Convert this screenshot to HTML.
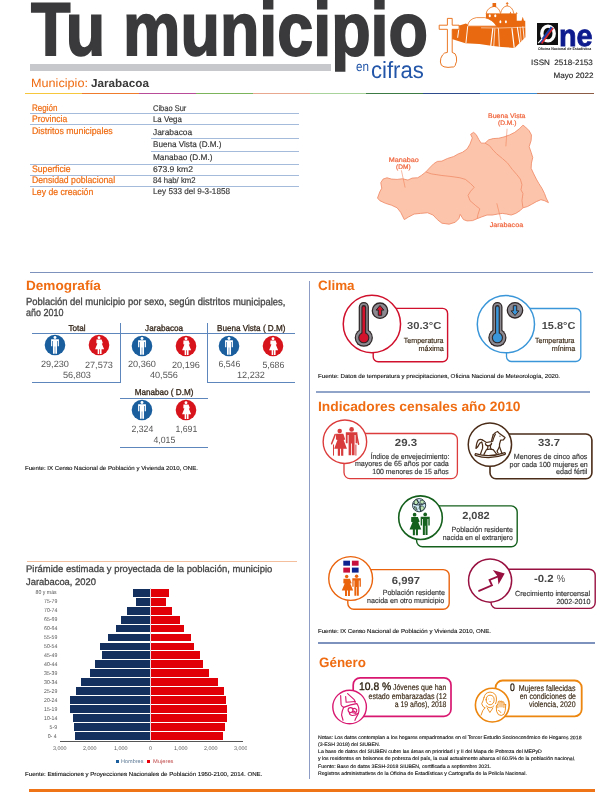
<!DOCTYPE html>
<html lang="es"><head><meta charset="utf-8"><title>Tu municipio en cifras - Jarabacoa</title>
<style>
html,body{margin:0;padding:0;background:#fff;}
body{filter:opacity(1);width:612px;height:792px;position:relative;overflow:hidden;font-family:"Liberation Sans",sans-serif;}
.t{position:absolute;white-space:pre;line-height:1;display:block;}
.r{position:absolute;}
svg{position:absolute;overflow:visible;}
.bx{position:absolute;box-sizing:border-box;background:#fff;}
.ci{position:absolute;box-sizing:border-box;background:#fff;border-radius:50%;}
</style></head><body>
<span class="t" style="left:31.00px;top:-8.00px;font-size:75px;color:#3a3a3c;font-weight:bold;transform:scaleX(0.8611) rotate(0.03deg);transform-origin:0 0;-webkit-text-stroke:1.8px #3a3a3c;">Tu municipio</span>
<div class="r" style="left:30.00px;top:64.00px;width:301.00px;height:6.60px;background:#c6c8cc;"></div>
<span class="t" style="left:356.30px;top:60.00px;font-size:13.5px;color:#2356a8;transform:scaleX(0.8657) rotate(0.03deg);transform-origin:0 0;">en</span>
<span class="t" style="left:370.80px;top:59.00px;font-size:23.5px;color:#2356a8;transform:scaleX(0.9404) rotate(0.03deg);transform-origin:0 0;">cifras</span>
<span class="t" style="left:30.60px;top:77.00px;font-size:12px;color:#ef6c12;transform:scaleX(1.0551) rotate(0.03deg);transform-origin:0 0;">Municipio:</span>
<span class="t" style="left:90.60px;top:78.00px;font-size:11.5px;color:#3a3a3a;font-weight:bold;transform:scaleX(1.0193) rotate(0.03deg);transform-origin:0 0;">Jarabacoa</span>
<span class="t" style="left:532.86px;top:59.00px;font-size:7.8px;color:#2a2a2a;transform:scaleX(1.0327) rotate(0.03deg);transform-origin:100% 0;-webkit-text-stroke:0.15px #2a2a2a;">ISSN  2518-2153</span>
<span class="t" style="left:555.41px;top:72.00px;font-size:7.8px;color:#2a2a2a;transform:scaleX(1.0365) rotate(0.03deg);transform-origin:100% 0;-webkit-text-stroke:0.15px #2a2a2a;">Mayo 2022</span>
<div class="r" style="left:25.00px;top:93.00px;width:57.00px;height:1.40px;background:#f6c63c;"></div>
<div class="r" style="left:82.00px;top:93.00px;width:57.00px;height:1.40px;background:#ef7c2c;"></div>
<div class="r" style="left:139.00px;top:93.00px;width:57.00px;height:1.40px;background:#b84c98;"></div>
<div class="r" style="left:196.00px;top:93.00px;width:57.00px;height:1.40px;background:#7cb45c;"></div>
<div class="r" style="left:253.00px;top:93.00px;width:57.00px;height:1.40px;background:#e8a890;"></div>
<div class="r" style="left:310.00px;top:93.00px;width:56.00px;height:1.40px;background:#a8d49c;"></div>
<div class="r" style="left:366.00px;top:93.00px;width:57.00px;height:1.40px;background:#3c7c44;"></div>
<div class="r" style="left:423.00px;top:93.00px;width:57.00px;height:1.40px;background:#2c4c8c;"></div>
<div class="r" style="left:480.00px;top:93.00px;width:57.00px;height:1.40px;background:#3c8cd4;"></div>
<div class="r" style="left:537.00px;top:93.00px;width:57.00px;height:1.40px;background:#8c5c44;"></div>
<span class="t" style="left:32.20px;top:103.00px;font-size:9.4px;color:#ef6c12;transform:scaleX(0.8560) rotate(0.03deg);transform-origin:0 0;-webkit-text-stroke:0.2px #ef6c12;">Región</span>
<span class="t" style="left:152.50px;top:104.00px;font-size:8.3px;color:#333;transform:scaleX(0.9022) rotate(0.03deg);transform-origin:0 0;-webkit-text-stroke:0.15px #333;">Cibao Sur</span>
<div class="r" style="left:30.00px;top:113.00px;width:268.50px;height:0.90px;background:#a4bbdb;"></div>
<span class="t" style="left:32.20px;top:114.00px;font-size:9.4px;color:#ef6c12;transform:scaleX(0.9131) rotate(0.03deg);transform-origin:0 0;-webkit-text-stroke:0.2px #ef6c12;">Provincia</span>
<span class="t" style="left:152.50px;top:115.00px;font-size:8.3px;color:#333;transform:scaleX(0.9454) rotate(0.03deg);transform-origin:0 0;-webkit-text-stroke:0.15px #333;">La Vega</span>
<div class="r" style="left:30.00px;top:124.40px;width:268.50px;height:0.90px;background:#a4bbdb;"></div>
<span class="t" style="left:32.20px;top:126.00px;font-size:9.4px;color:#ef6c12;transform:scaleX(0.9397) rotate(0.03deg);transform-origin:0 0;-webkit-text-stroke:0.2px #ef6c12;">Distritos municipales</span>
<span class="t" style="left:152.50px;top:128.00px;font-size:8.3px;color:#333;transform:scaleX(1.0113) rotate(0.03deg);transform-origin:0 0;-webkit-text-stroke:0.15px #333;">Jarabacoa</span>
<div class="r" style="left:151.00px;top:138.40px;width:147.50px;height:0.90px;background:#a4bbdb;"></div>
<span class="t" style="left:152.50px;top:140.00px;font-size:8.3px;color:#333;transform:scaleX(0.9805) rotate(0.03deg);transform-origin:0 0;-webkit-text-stroke:0.15px #333;">Buena Vista (D.M.)</span>
<div class="r" style="left:151.00px;top:151.20px;width:147.50px;height:0.90px;background:#a4bbdb;"></div>
<span class="t" style="left:152.50px;top:153.00px;font-size:8.3px;color:#333;transform:scaleX(0.9923) rotate(0.03deg);transform-origin:0 0;-webkit-text-stroke:0.15px #333;">Manabao (D.M.)</span>
<div class="r" style="left:30.00px;top:164.20px;width:268.50px;height:0.90px;background:#a4bbdb;"></div>
<span class="t" style="left:32.20px;top:164.00px;font-size:9.4px;color:#ef6c12;transform:scaleX(0.9234) rotate(0.03deg);transform-origin:0 0;-webkit-text-stroke:0.2px #ef6c12;">Superficie</span>
<span class="t" style="left:152.50px;top:165.00px;font-size:8.3px;color:#333;transform:scaleX(1.0295) rotate(0.03deg);transform-origin:0 0;-webkit-text-stroke:0.15px #333;">673.9 km2</span>
<div class="r" style="left:30.00px;top:175.00px;width:268.50px;height:0.90px;background:#a4bbdb;"></div>
<span class="t" style="left:32.20px;top:175.00px;font-size:9.4px;color:#ef6c12;transform:scaleX(0.9267) rotate(0.03deg);transform-origin:0 0;-webkit-text-stroke:0.2px #ef6c12;">Densidad poblacional</span>
<span class="t" style="left:152.50px;top:176.00px;font-size:8.3px;color:#333;transform:scaleX(0.9304) rotate(0.03deg);transform-origin:0 0;-webkit-text-stroke:0.15px #333;">84 hab/ km2</span>
<div class="r" style="left:30.00px;top:185.80px;width:268.50px;height:0.90px;background:#a4bbdb;"></div>
<span class="t" style="left:32.20px;top:187.00px;font-size:9.4px;color:#ef6c12;transform:scaleX(0.9252) rotate(0.03deg);transform-origin:0 0;-webkit-text-stroke:0.2px #ef6c12;">Ley de creación</span>
<span class="t" style="left:152.50px;top:187.00px;font-size:8.3px;color:#333;transform:scaleX(0.9815) rotate(0.03deg);transform-origin:0 0;-webkit-text-stroke:0.15px #333;">Ley 533 del 9-3-1858</span>
<div class="r" style="left:29.60px;top:271.90px;width:563.00px;height:1.40px;background:#7d93bd;"></div>
<div class="r" style="left:309.20px;top:281.00px;width:1.10px;height:498.00px;background:#8c9cc4;"></div>
<div class="r" style="left:316.40px;top:391.30px;width:274.00px;height:1.30px;background:#8fa4c8;"></div>
<div class="r" style="left:317.50px;top:642.30px;width:277.00px;height:1.30px;background:#7d93bd;"></div>
<div class="r" style="left:26.70px;top:561.10px;width:270.50px;height:1.30px;background:#f4bf9c;"></div>
<div class="r" style="left:28.50px;top:789.30px;width:566.00px;height:3.00px;background:#ef7418;"></div>
<svg style="left:0;top:0;width:612px;height:792px" viewBox="0 0 612 792">
<g transform="translate(470 0) scale(0.106214)">
<path d="M-171 262 L-38 222 L0 245 L150 245 L150 120 L272 120 L272 128 L440 128 L440 195 L485 195 L497 158 L508 195 L520 195 L522 350 L470 402 L420 452 L300 442 L200 430 L88 414 L-44 408 L-171 368 Z" fill="#e8690f"/>
<path d="M-24 246 Q-12 178 60 166 L140 166 Q218 186 250 246 Z" fill="#fff" stroke="#e8690f" stroke-width="7"/>
<path d="M152 130 Q160 72 228 60 Q276 70 288 130 Z" fill="#fff" stroke="#e8690f" stroke-width="7"/>
<path d="M287 130 Q300 62 350 55 Q400 62 412 124 L412 130 Z" fill="#fff" stroke="#e8690f" stroke-width="7"/>
<path d="M212 28 H246 V66 H212 Z M346 20 H354 V30 H362 V38 H354 V58 H346 V38 H338 V30 H346 Z M372 130 L381 108 L390 130 Z M430 130 L440 112 L448 130 Z" fill="#e8690f"/>
<g fill="#fff"><ellipse cx="186" cy="148" rx="10" ry="15"/><ellipse cx="238" cy="148" rx="10" ry="15"/><ellipse cx="286" cy="205" rx="9" ry="15"/><ellipse cx="338" cy="205" rx="9" ry="15"/></g>
<g stroke="#fff" fill="none" stroke-linecap="round">
<path d="M215 270 L196 428" stroke-width="11"/><path d="M234 270 L224 430" stroke-width="7"/><path d="M268 270 L276 436" stroke-width="8"/>
<path d="M395 270 L416 446" stroke-width="11"/><path d="M446 258 L468 400" stroke-width="10"/><path d="M472 256 L482 388" stroke-width="6"/><path d="M498 252 L510 364" stroke-width="8"/>
<path d="M-104 264 L-116 352" stroke-width="9"/><path d="M-22 250 L-38 402" stroke-width="9"/>
<path d="M108 262 L262 264" stroke-width="5"/><path d="M262 264 L520 256" stroke-width="5"/>
</g>
</g>
<path d="M447.4 18.4 H452.2 V25.2 H459.1 V29.3 H452.2 V52.4 Q456 53 456.4 57 Q457.2 62 455.6 64 Q455 67.6 452 67 Q448 67.9 444 66.8 Q440.5 66 440.4 62 Q440.2 58 442.5 55 Q444 52.5 447.4 52.4 V29.3 H439.2 V25.2 H447.4 Z" fill="#fff" stroke="#e8690f" stroke-width="0.9" stroke-linejoin="round"/>
</svg>
<svg style="left:537.4px;top:23.1px;width:21px;height:22px" viewBox="0 0 21 22">
<rect width="21" height="22" fill="#111"/>
<ellipse cx="11" cy="10.5" rx="6.2" ry="7.4" fill="none" stroke="#fff" stroke-width="3.4"/>
<path d="M3.2 19.5 L14.8 4.2" stroke="#1d3fa8" stroke-width="2.6"/>
<path d="M4.6 20.4 L16.2 5.1" stroke="#d8232a" stroke-width="1.6"/>
<path d="M1.2 20.2 L5.2 15.6" stroke="#fff" stroke-width="1.2"/>
</svg>
<span class="t" style="left:558.80px;top:20.00px;font-size:30.5px;color:#0d1b8e;font-weight:bold;transform:scaleX(0.9440) rotate(0.03deg);transform-origin:0 0;-webkit-text-stroke:0.8px #0d1b8e;">ne</span>
<span class="t" style="left:537.60px;top:47.00px;font-size:3.9px;color:#222;font-weight:bold;transform:scaleX(0.9245) rotate(0.03deg);transform-origin:0 0;">Oficina Nacional de Estadística</span>
<svg style="left:370px;top:100px;width:200px;height:140px" viewBox="0 0 612 428.4">
<path d="M23 300 L30 281 L36 270 L33 253 L40 242 L52 238 L66 242 L83 243 L99 241 L116 245 L129 239 L146 238 L157 231 L171 220 L182 208 L195 195 L206 188 L220 187 L237 179 L256 173 L270 165 L283 160 L297 150 L306 135 L313 116 L308 105 L317 99 L325 106 L333 121 L340 132 L352 132 L363 122 L377 118 L394 117 L410 113 L427 107 L443 99 L457 88 L468 77 L476 83 L487 94 L494 107 L493 124 L487 143 L493 160 L498 176 L494 193 L493 209 L501 226 L509 242 L517 256 L526 270 L534 286 L539 300 L546 314 L534 308 L523 305 L509 311 L495 319 L482 326 L468 330 L460 338 L446 347 L432 352 L418 349 L405 347 L391 349 L374 352 L358 352 L341 358 L328 363 L314 369 L297 370 L286 366 L276 350 L272 363 L261 374 L242 380 L220 377 L206 366 L193 352 L176 345 L154 347 L135 349 L118 358 L105 366 L94 344 L83 330 L66 322 L47 316 L30 308 Z" fill="#fcc5ab" stroke="#f08a68" stroke-width="2.6" stroke-linejoin="round"/>
<path d="M171 220 L187 226 L220 231 L248 234 L275 238 L292 243 L308 256 L319 267 L308 279 L300 292 L306 308 L322 322 L336 333 L330 352 L328 363" fill="none" stroke="#f08a68" stroke-width="2.4"/>
<path d="M352 132 L366 140 L377 154 L388 165 L405 179 L421 193 L435 212 L449 228 L460 242 L465 259 L462 275 L468 286 L465 308 L468 330" fill="none" stroke="#f08a68" stroke-width="2.4"/>
<path d="M419.5 88 L415.7 142 M96 215 L107.5 268 M388 316 L400.8 367" stroke="#f07850" stroke-width="1.6" fill="none"/>
</svg>
<span class="t" style="left:489.36px;top:113.00px;font-size:6.6px;color:#f0643c;transform:scaleX(1.0572) rotate(0.03deg);transform-origin:50% 0;-webkit-text-stroke:0.2px #f0643c;">Buena Vista</span>
<span class="t" style="left:497.94px;top:120.00px;font-size:6.6px;color:#f0643c;transform:scaleX(1.0094) rotate(0.03deg);transform-origin:50% 0;-webkit-text-stroke:0.2px #f0643c;">(D.M.)</span>
<span class="t" style="left:390.04px;top:157.00px;font-size:6.6px;color:#f0643c;transform:scaleX(1.0900) rotate(0.03deg);transform-origin:50% 0;-webkit-text-stroke:0.2px #f0643c;">Manabao</span>
<span class="t" style="left:396.47px;top:164.00px;font-size:6.6px;color:#f0643c;transform:scaleX(0.9891) rotate(0.03deg);transform-origin:50% 0;-webkit-text-stroke:0.2px #f0643c;">(DM)</span>
<span class="t" style="left:490.99px;top:222.00px;font-size:6.6px;color:#f0643c;transform:scaleX(1.0869) rotate(0.03deg);transform-origin:50% 0;-webkit-text-stroke:0.2px #f0643c;">Jarabacoa</span>
<span class="t" style="left:25.70px;top:279.00px;font-size:13.4px;color:#ef6c12;font-weight:bold;transform:scaleX(1.0147) rotate(0.03deg);transform-origin:0 0;">Demografía</span>
<span class="t" style="left:25.70px;top:297.00px;font-size:10.3px;color:#444;transform:scaleX(0.9175) rotate(0.03deg);transform-origin:0 0;-webkit-text-stroke:0.3px #444;">Población del municipio por sexo, según distritos municipales,</span>
<span class="t" style="left:25.70px;top:308.00px;font-size:10.3px;color:#444;transform:scaleX(0.8706) rotate(0.03deg);transform-origin:0 0;-webkit-text-stroke:0.3px #444;">año 2010</span>
<div class="r" style="left:32.00px;top:333.40px;width:263.00px;height:1.00px;background:#5c86bc;"></div>
<div class="r" style="left:120.30px;top:322.50px;width:1.00px;height:60.40px;background:#5c86bc;"></div>
<div class="r" style="left:207.20px;top:322.50px;width:1.00px;height:60.40px;background:#5c86bc;"></div>
<div class="r" style="left:32.00px;top:382.00px;width:89.00px;height:1.00px;background:#5c86bc;"></div>
<div class="r" style="left:207.20px;top:382.00px;width:88.00px;height:1.00px;background:#5c86bc;"></div>
<div class="r" style="left:120.30px;top:397.60px;width:87.60px;height:1.00px;background:#5c86bc;"></div>
<div class="r" style="left:120.30px;top:446.50px;width:87.60px;height:1.00px;background:#5c86bc;"></div>
<span class="t" style="left:67.82px;top:324.00px;font-size:8.6px;color:#36281c;transform:scaleX(0.9450) rotate(0.03deg);transform-origin:50% 0;-webkit-text-stroke:0.3px #36281c;">Total</span>
<svg style="left:43.80px;top:334.00px;width:22px;height:22px" viewBox="-11 -11 22 22"><circle r="10.3" fill="#1a5e9e"/><path d="M-2.9 -5.4 h5.8 v6.2 h-0.9 v-4.6 h-0.5 v11.4 h-1.3 v-6.6 h-0.4 v6.6 h-1.3 v-11.4 h-0.5 v4.6 h-0.9 Z" fill="#fff" transform="translate(0 0.3) scale(1.35 1.12)"/><circle cx="0" cy="-7.45" r="1.45" fill="#fff"/></svg>
<svg style="left:88.00px;top:334.00px;width:22px;height:22px" viewBox="-11 -11 22 22"><circle r="10.3" fill="#d7141c"/><path d="M-2.1 -5.2 h4.2 l1.1 3.4 l-0.9 0.3 l1.9 5.1 h-2.1 v4.1 h-1.3 v-4.1 h-0.6 v4.1 h-1.3 v-4.1 h-2.1 l1.9 -5.1 l-0.9 -0.3 Z" fill="#fff" transform="translate(0 0.3) scale(1.22 1.12)"/><circle cx="0" cy="-7.25" r="1.45" fill="#fff"/></svg>
<span class="t" style="left:40.88px;top:360.00px;font-size:9.1px;color:#555;transform:scaleX(1.0060) rotate(0.03deg);transform-origin:50% 0;">29,230</span>
<span class="t" style="left:85.08px;top:361.00px;font-size:9.1px;color:#555;transform:scaleX(1.0060) rotate(0.03deg);transform-origin:50% 0;">27,573</span>
<span class="t" style="left:62.98px;top:371.00px;font-size:9.1px;color:#555;transform:scaleX(1.0060) rotate(0.03deg);transform-origin:50% 0;">56,803</span>
<span class="t" style="left:143.92px;top:324.00px;font-size:8.6px;color:#36281c;transform:scaleX(0.9450) rotate(0.03deg);transform-origin:50% 0;-webkit-text-stroke:0.3px #36281c;">Jarabacoa</span>
<svg style="left:130.90px;top:334.50px;width:22px;height:22px" viewBox="-11 -11 22 22"><circle r="10.3" fill="#1a5e9e"/><path d="M-2.9 -5.4 h5.8 v6.2 h-0.9 v-4.6 h-0.5 v11.4 h-1.3 v-6.6 h-0.4 v6.6 h-1.3 v-11.4 h-0.5 v4.6 h-0.9 Z" fill="#fff" transform="translate(0 0.3) scale(1.35 1.12)"/><circle cx="0" cy="-7.45" r="1.45" fill="#fff"/></svg>
<svg style="left:175.10px;top:334.50px;width:22px;height:22px" viewBox="-11 -11 22 22"><circle r="10.3" fill="#d7141c"/><path d="M-2.1 -5.2 h4.2 l1.1 3.4 l-0.9 0.3 l1.9 5.1 h-2.1 v4.1 h-1.3 v-4.1 h-0.6 v4.1 h-1.3 v-4.1 h-2.1 l1.9 -5.1 l-0.9 -0.3 Z" fill="#fff" transform="translate(0 0.3) scale(1.22 1.12)"/><circle cx="0" cy="-7.25" r="1.45" fill="#fff"/></svg>
<span class="t" style="left:127.98px;top:360.00px;font-size:9.1px;color:#555;transform:scaleX(1.0060) rotate(0.03deg);transform-origin:50% 0;">20,360</span>
<span class="t" style="left:172.18px;top:361.00px;font-size:9.1px;color:#555;transform:scaleX(1.0060) rotate(0.03deg);transform-origin:50% 0;">20,196</span>
<span class="t" style="left:150.08px;top:371.00px;font-size:9.1px;color:#555;transform:scaleX(1.0060) rotate(0.03deg);transform-origin:50% 0;">40,556</span>
<span class="t" style="left:215.05px;top:324.00px;font-size:8.6px;color:#36281c;transform:scaleX(0.9450) rotate(0.03deg);transform-origin:50% 0;-webkit-text-stroke:0.3px #36281c;">Buena Vista ( D.M)</span>
<svg style="left:218.20px;top:334.50px;width:22px;height:22px" viewBox="-11 -11 22 22"><circle r="10.3" fill="#1a5e9e"/><path d="M-2.9 -5.4 h5.8 v6.2 h-0.9 v-4.6 h-0.5 v11.4 h-1.3 v-6.6 h-0.4 v6.6 h-1.3 v-11.4 h-0.5 v4.6 h-0.9 Z" fill="#fff" transform="translate(0 0.3) scale(1.35 1.12)"/><circle cx="0" cy="-7.45" r="1.45" fill="#fff"/></svg>
<svg style="left:262.40px;top:334.50px;width:22px;height:22px" viewBox="-11 -11 22 22"><circle r="10.3" fill="#d7141c"/><path d="M-2.1 -5.2 h4.2 l1.1 3.4 l-0.9 0.3 l1.9 5.1 h-2.1 v4.1 h-1.3 v-4.1 h-0.6 v4.1 h-1.3 v-4.1 h-2.1 l1.9 -5.1 l-0.9 -0.3 Z" fill="#fff" transform="translate(0 0.3) scale(1.22 1.12)"/><circle cx="0" cy="-7.25" r="1.45" fill="#fff"/></svg>
<span class="t" style="left:217.81px;top:360.00px;font-size:9.1px;color:#555;transform:scaleX(0.9573) rotate(0.03deg);transform-origin:50% 0;">6,546</span>
<span class="t" style="left:262.01px;top:361.00px;font-size:9.1px;color:#555;transform:scaleX(0.9573) rotate(0.03deg);transform-origin:50% 0;">5,686</span>
<span class="t" style="left:237.38px;top:371.00px;font-size:9.1px;color:#555;transform:scaleX(1.0060) rotate(0.03deg);transform-origin:50% 0;">12,232</span>
<span class="t" style="left:132.93px;top:388.00px;font-size:8.6px;color:#36281c;transform:scaleX(0.9450) rotate(0.03deg);transform-origin:50% 0;-webkit-text-stroke:0.3px #36281c;">Manabao ( D.M)</span>
<svg style="left:130.90px;top:399.40px;width:22px;height:22px" viewBox="-11 -11 22 22"><circle r="10.3" fill="#1a5e9e"/><path d="M-2.9 -5.4 h5.8 v6.2 h-0.9 v-4.6 h-0.5 v11.4 h-1.3 v-6.6 h-0.4 v6.6 h-1.3 v-11.4 h-0.5 v4.6 h-0.9 Z" fill="#fff" transform="translate(0 0.3) scale(1.35 1.12)"/><circle cx="0" cy="-7.45" r="1.45" fill="#fff"/></svg>
<svg style="left:175.10px;top:399.40px;width:22px;height:22px" viewBox="-11 -11 22 22"><circle r="10.3" fill="#d7141c"/><path d="M-2.1 -5.2 h4.2 l1.1 3.4 l-0.9 0.3 l1.9 5.1 h-2.1 v4.1 h-1.3 v-4.1 h-0.6 v4.1 h-1.3 v-4.1 h-2.1 l1.9 -5.1 l-0.9 -0.3 Z" fill="#fff" transform="translate(0 0.3) scale(1.22 1.12)"/><circle cx="0" cy="-7.25" r="1.45" fill="#fff"/></svg>
<span class="t" style="left:130.51px;top:425.00px;font-size:9.1px;color:#555;transform:scaleX(0.9573) rotate(0.03deg);transform-origin:50% 0;">2,324</span>
<span class="t" style="left:174.71px;top:425.00px;font-size:9.1px;color:#555;transform:scaleX(0.9573) rotate(0.03deg);transform-origin:50% 0;">1,691</span>
<span class="t" style="left:152.61px;top:436.00px;font-size:9.1px;color:#555;transform:scaleX(0.9573) rotate(0.03deg);transform-origin:50% 0;">4,015</span>
<span class="t" style="left:24.70px;top:466.00px;font-size:5.8px;color:#111;transform:scaleX(1.0507) rotate(0.03deg);transform-origin:0 0;-webkit-text-stroke:0.12px #111;">Fuente: IX Censo Nacional de Población y Vivienda 2010, ONE.</span>
<span class="t" style="left:25.70px;top:564.00px;font-size:9.6px;color:#444;transform:scaleX(0.9849) rotate(0.03deg);transform-origin:0 0;-webkit-text-stroke:0.3px #444;">Pirámide estimada y proyectada de la población, municipio</span>
<span class="t" style="left:25.70px;top:577.00px;font-size:9.6px;color:#444;transform:scaleX(0.9787) rotate(0.03deg);transform-origin:0 0;-webkit-text-stroke:0.3px #444;">Jarabacoa, 2020</span>
<div class="r" style="left:132.90px;top:588.75px;width:17.70px;height:7.90px;background:#14305f;"></div>
<div class="r" style="left:150.60px;top:588.75px;width:18.00px;height:7.90px;background:#e20008;"></div>
<span class="t" style="left:34.28px;top:590.00px;font-size:5.6px;color:#555;transform:scaleX(0.9300) rotate(0.03deg);transform-origin:100% 0;">80 y más</span>
<div class="r" style="left:136.30px;top:597.71px;width:14.30px;height:7.90px;background:#14305f;"></div>
<div class="r" style="left:150.60px;top:597.71px;width:15.00px;height:7.90px;background:#e20008;"></div>
<span class="t" style="left:42.68px;top:599.00px;font-size:5.6px;color:#555;transform:scaleX(0.9300) rotate(0.03deg);transform-origin:100% 0;">75-79</span>
<div class="r" style="left:127.40px;top:606.67px;width:23.20px;height:7.90px;background:#14305f;"></div>
<div class="r" style="left:150.60px;top:606.67px;width:21.00px;height:7.90px;background:#e20008;"></div>
<span class="t" style="left:42.68px;top:608.00px;font-size:5.6px;color:#555;transform:scaleX(0.9300) rotate(0.03deg);transform-origin:100% 0;">70-74</span>
<div class="r" style="left:120.60px;top:615.63px;width:30.00px;height:7.90px;background:#14305f;"></div>
<div class="r" style="left:150.60px;top:615.63px;width:29.00px;height:7.90px;background:#e20008;"></div>
<span class="t" style="left:42.68px;top:617.00px;font-size:5.6px;color:#555;transform:scaleX(0.9300) rotate(0.03deg);transform-origin:100% 0;">65-69</span>
<div class="r" style="left:115.60px;top:624.59px;width:35.00px;height:7.90px;background:#14305f;"></div>
<div class="r" style="left:150.60px;top:624.59px;width:33.50px;height:7.90px;background:#e20008;"></div>
<span class="t" style="left:42.68px;top:626.00px;font-size:5.6px;color:#555;transform:scaleX(0.9300) rotate(0.03deg);transform-origin:100% 0;">60-64</span>
<div class="r" style="left:108.20px;top:633.55px;width:42.40px;height:7.90px;background:#14305f;"></div>
<div class="r" style="left:150.60px;top:633.55px;width:40.00px;height:7.90px;background:#e20008;"></div>
<span class="t" style="left:42.68px;top:635.00px;font-size:5.6px;color:#555;transform:scaleX(0.9300) rotate(0.03deg);transform-origin:100% 0;">55-59</span>
<div class="r" style="left:100.00px;top:642.51px;width:50.60px;height:7.90px;background:#14305f;"></div>
<div class="r" style="left:150.60px;top:642.51px;width:43.00px;height:7.90px;background:#e20008;"></div>
<span class="t" style="left:42.68px;top:644.00px;font-size:5.6px;color:#555;transform:scaleX(0.9300) rotate(0.03deg);transform-origin:100% 0;">50-54</span>
<div class="r" style="left:101.60px;top:651.47px;width:49.00px;height:7.90px;background:#14305f;"></div>
<div class="r" style="left:150.60px;top:651.47px;width:49.60px;height:7.90px;background:#e20008;"></div>
<span class="t" style="left:42.68px;top:653.00px;font-size:5.6px;color:#555;transform:scaleX(0.9300) rotate(0.03deg);transform-origin:100% 0;">45-49</span>
<div class="r" style="left:94.60px;top:660.43px;width:56.00px;height:7.90px;background:#14305f;"></div>
<div class="r" style="left:150.60px;top:660.43px;width:52.00px;height:7.90px;background:#e20008;"></div>
<span class="t" style="left:42.68px;top:662.00px;font-size:5.6px;color:#555;transform:scaleX(0.9300) rotate(0.03deg);transform-origin:100% 0;">40-44</span>
<div class="r" style="left:90.10px;top:669.39px;width:60.50px;height:7.90px;background:#14305f;"></div>
<div class="r" style="left:150.60px;top:669.39px;width:58.00px;height:7.90px;background:#e20008;"></div>
<span class="t" style="left:42.68px;top:671.00px;font-size:5.6px;color:#555;transform:scaleX(0.9300) rotate(0.03deg);transform-origin:100% 0;">35-39</span>
<div class="r" style="left:81.10px;top:678.35px;width:69.50px;height:7.90px;background:#14305f;"></div>
<div class="r" style="left:150.60px;top:678.35px;width:67.00px;height:7.90px;background:#e20008;"></div>
<span class="t" style="left:42.68px;top:680.00px;font-size:5.6px;color:#555;transform:scaleX(0.9300) rotate(0.03deg);transform-origin:100% 0;">30-34</span>
<div class="r" style="left:75.60px;top:687.31px;width:75.00px;height:7.90px;background:#14305f;"></div>
<div class="r" style="left:150.60px;top:687.31px;width:73.00px;height:7.90px;background:#e20008;"></div>
<span class="t" style="left:42.68px;top:689.00px;font-size:5.6px;color:#555;transform:scaleX(0.9300) rotate(0.03deg);transform-origin:100% 0;">25-29</span>
<div class="r" style="left:69.60px;top:696.27px;width:81.00px;height:7.90px;background:#14305f;"></div>
<div class="r" style="left:150.60px;top:696.27px;width:75.00px;height:7.90px;background:#e20008;"></div>
<span class="t" style="left:42.68px;top:698.00px;font-size:5.6px;color:#555;transform:scaleX(0.9300) rotate(0.03deg);transform-origin:100% 0;">20-24</span>
<div class="r" style="left:69.60px;top:705.23px;width:81.00px;height:7.90px;background:#14305f;"></div>
<div class="r" style="left:150.60px;top:705.23px;width:76.00px;height:7.90px;background:#e20008;"></div>
<span class="t" style="left:42.68px;top:707.00px;font-size:5.6px;color:#555;transform:scaleX(0.9300) rotate(0.03deg);transform-origin:100% 0;">15-19</span>
<div class="r" style="left:72.60px;top:714.19px;width:78.00px;height:7.90px;background:#14305f;"></div>
<div class="r" style="left:150.60px;top:714.19px;width:76.70px;height:7.90px;background:#e20008;"></div>
<span class="t" style="left:42.68px;top:716.00px;font-size:5.6px;color:#555;transform:scaleX(0.9300) rotate(0.03deg);transform-origin:100% 0;">10-14</span>
<div class="r" style="left:73.60px;top:723.15px;width:77.00px;height:7.90px;background:#14305f;"></div>
<div class="r" style="left:150.60px;top:723.15px;width:74.40px;height:7.90px;background:#e20008;"></div>
<span class="t" style="left:48.91px;top:725.00px;font-size:5.6px;color:#555;transform:scaleX(0.9300) rotate(0.03deg);transform-origin:100% 0;">5-9</span>
<div class="r" style="left:74.60px;top:732.11px;width:76.00px;height:7.90px;background:#14305f;"></div>
<div class="r" style="left:150.60px;top:732.11px;width:72.00px;height:7.90px;background:#e20008;"></div>
<span class="t" style="left:47.35px;top:734.00px;font-size:5.6px;color:#555;transform:scaleX(0.9300) rotate(0.03deg);transform-origin:100% 0;">0- 4</span>
<div class="r" style="left:150.35px;top:588.00px;width:0.50px;height:154.00px;background:#e8d8e0;"></div>
<div class="r" style="left:59.50px;top:740.70px;width:183.00px;height:0.90px;background:#555;"></div>
<span class="t" style="left:53.24px;top:746.00px;font-size:5.4px;color:#555;transform:scaleX(1.0000) rotate(0.03deg);transform-origin:50% 0;">3,000</span>
<span class="t" style="left:83.44px;top:746.00px;font-size:5.4px;color:#555;transform:scaleX(1.0000) rotate(0.03deg);transform-origin:50% 0;">2,000</span>
<span class="t" style="left:113.64px;top:746.00px;font-size:5.4px;color:#555;transform:scaleX(1.0000) rotate(0.03deg);transform-origin:50% 0;">1,000</span>
<span class="t" style="left:149.10px;top:746.00px;font-size:5.4px;color:#555;transform:scaleX(1.0000) rotate(0.03deg);transform-origin:50% 0;">0</span>
<span class="t" style="left:174.04px;top:746.00px;font-size:5.4px;color:#555;transform:scaleX(1.0000) rotate(0.03deg);transform-origin:50% 0;">1,000</span>
<span class="t" style="left:204.24px;top:746.00px;font-size:5.4px;color:#555;transform:scaleX(1.0000) rotate(0.03deg);transform-origin:50% 0;">2,000</span>
<span class="t" style="left:234.44px;top:746.00px;font-size:5.4px;color:#555;transform:scaleX(1.0000) rotate(0.03deg);transform-origin:50% 0;">3,000</span>
<div class="r" style="left:246.60px;top:744.00px;width:6.00px;height:8.00px;background:#fff;"></div>
<div class="r" style="left:115.60px;top:759.60px;width:3.20px;height:3.20px;background:#1a5e9e;"></div>
<span class="t" style="left:121.00px;top:759.00px;font-size:5.4px;color:#5c7894;transform:scaleX(1.0271) rotate(0.03deg);transform-origin:0 0;">Hombres</span>
<div class="r" style="left:146.80px;top:759.60px;width:3.20px;height:3.20px;background:#e8000a;"></div>
<span class="t" style="left:152.50px;top:759.00px;font-size:5.4px;color:#c04848;transform:scaleX(1.0674) rotate(0.03deg);transform-origin:0 0;">Mujeres</span>
<span class="t" style="left:25.00px;top:772.00px;font-size:5.8px;color:#111;transform:scaleX(1.0554) rotate(0.03deg);transform-origin:0 0;-webkit-text-stroke:0.12px #111;">Fuente: Estimaciones y Proyecciones Nacionales de Población 1950-2100, 2014. ONE.</span>
<span class="t" style="left:317.80px;top:279.00px;font-size:13.6px;color:#ef6c12;font-weight:bold;transform:scaleX(0.9883) rotate(0.03deg);transform-origin:0 0;">Clima</span>
<svg style="left:0;top:0;width:612px;height:792px" viewBox="0 0 612 792"><rect x="373.20" y="308.40" width="74.40" height="53.40" rx="5" fill="#fff" stroke="#d0102c" stroke-width="1.4"/></svg>
<svg style="left:0;top:0;width:612px;height:792px" viewBox="0 0 612 792"><circle cx="371.90" cy="324.00" r="28.65" fill="#fff" stroke="#d0102c" stroke-width="1.5"/></svg>
<svg style="left:0;top:0;width:612px;height:792px" viewBox="0 0 612 792"><path d="M358.7 307.1 a5.1 5.1 0 0 1 10.2 0 V337.7 H358.7 Z" fill="#2e2627"/><circle cx="363.8" cy="337.7" r="9.1" fill="#2e2627"/><path d="M359.90000000000003 307.09999999999997 a3.9 3.9 0 0 1 7.8 0 V337.7 H359.90000000000003 Z" fill="#8d8990"/><circle cx="363.8" cy="337.7" r="7.9" fill="#8d8990"/><path d="M361.40000000000003 307.4 a2.4 2.4 0 0 1 4.8 0 V337.7 H361.40000000000003 Z" fill="#2e2627"/><circle cx="363.8" cy="337.7" r="5.6" fill="#2e2627"/><path d="M362.5 307.90000000000003 a1.3 1.3 0 0 1 2.6 0 V337.7 H362.5 Z" fill="#d3122c"/><circle cx="363.8" cy="337.7" r="4.5" fill="#d3122c"/><circle cx="380.0" cy="310.7" r="7.7" fill="#8d8990" stroke="#2e2627" stroke-width="1.3"/><path d="M0 -5.2 L3.9 -0.6 H1.7 V4.6 H-1.7 V-0.6 H-3.9 Z" transform="translate(380.0 310.7) " fill="#d3122c" stroke="#2e2627" stroke-width="1.0" stroke-linejoin="round"/></svg>
<span class="t" style="left:409.90px;top:321.00px;font-size:10.2px;color:#4a4a4a;font-weight:bold;transform:scaleX(1.0959) rotate(0.03deg);transform-origin:100% 0;">30.3°C</span>
<span class="t" style="left:401.86px;top:337.00px;font-size:7.4px;color:#3a2814;transform:scaleX(0.9557) rotate(0.03deg);transform-origin:100% 0;-webkit-text-stroke:0.15px #3a2814;">Temperatura</span>
<span class="t" style="left:417.50px;top:345.00px;font-size:7.4px;color:#3a2814;transform:scaleX(0.9767) rotate(0.03deg);transform-origin:100% 0;-webkit-text-stroke:0.15px #3a2814;">máxima</span>
<svg style="left:0;top:0;width:612px;height:792px" viewBox="0 0 612 792"><rect x="506.50" y="308.50" width="74.30" height="53.00" rx="5" fill="#fff" stroke="#3a96d8" stroke-width="1.3"/></svg>
<svg style="left:0;top:0;width:612px;height:792px" viewBox="0 0 612 792"><circle cx="505.90" cy="324.20" r="28.60" fill="#fff" stroke="#3a96d8" stroke-width="1.5"/></svg>
<svg style="left:0;top:0;width:612px;height:792px" viewBox="0 0 612 792"><path d="M492.29999999999995 307.1 a5.1 5.1 0 0 1 10.2 0 V337.7 H492.29999999999995 Z" fill="#2e2627"/><circle cx="497.4" cy="337.7" r="9.1" fill="#2e2627"/><path d="M493.5 307.09999999999997 a3.9 3.9 0 0 1 7.8 0 V337.7 H493.5 Z" fill="#8d8990"/><circle cx="497.4" cy="337.7" r="7.9" fill="#8d8990"/><path d="M495.0 307.4 a2.4 2.4 0 0 1 4.8 0 V337.7 H495.0 Z" fill="#2e2627"/><circle cx="497.4" cy="337.7" r="5.6" fill="#2e2627"/><path d="M496.09999999999997 307.90000000000003 a1.3 1.3 0 0 1 2.6 0 V337.7 H496.09999999999997 Z" fill="#3a96d8"/><circle cx="497.4" cy="337.7" r="4.5" fill="#3a96d8"/><circle cx="515.0" cy="310.3" r="7.7" fill="#8d8990" stroke="#2e2627" stroke-width="1.3"/><path d="M0 -5.2 L3.9 -0.6 H1.7 V4.6 H-1.7 V-0.6 H-3.9 Z" transform="translate(515.0 310.3) scale(1 -1)" fill="#3a96d8" stroke="#2e2627" stroke-width="1.0" stroke-linejoin="round"/></svg>
<span class="t" style="left:543.60px;top:321.00px;font-size:10.2px;color:#4a4a4a;font-weight:bold;transform:scaleX(1.0704) rotate(0.03deg);transform-origin:100% 0;">15.8°C</span>
<span class="t" style="left:533.36px;top:337.00px;font-size:7.4px;color:#3a2814;transform:scaleX(0.9508) rotate(0.03deg);transform-origin:100% 0;-webkit-text-stroke:0.15px #3a2814;">Temperatura</span>
<span class="t" style="left:550.64px;top:345.00px;font-size:7.4px;color:#3a2814;transform:scaleX(0.9687) rotate(0.03deg);transform-origin:100% 0;-webkit-text-stroke:0.15px #3a2814;">mínima</span>
<span class="t" style="left:317.80px;top:374.00px;font-size:5.8px;color:#111;transform:scaleX(1.0581) rotate(0.03deg);transform-origin:0 0;-webkit-text-stroke:0.12px #111;">Fuente: Datos de temperatura y precipitaciones, Oficina Nacional de Meteorología, 2020.</span>
<span class="t" style="left:317.80px;top:400.00px;font-size:13.6px;color:#ef6c12;font-weight:bold;transform:scaleX(1.0152) rotate(0.03deg);transform-origin:0 0;">Indicadores censales año 2010</span>
<svg style="left:0;top:0;width:612px;height:792px" viewBox="0 0 612 792"><rect x="344.00" y="433.50" width="113.40" height="45.10" rx="6" fill="#fff" stroke="#dc3c3c" stroke-width="1.3"/></svg>
<svg style="left:0;top:0;width:612px;height:792px" viewBox="0 0 612 792"><circle cx="344.90" cy="441.70" r="21.75" fill="#fff" stroke="#dc3c3c" stroke-width="1.4"/></svg>
<span class="t" style="left:395.88px;top:438.00px;font-size:10.3px;color:#484848;font-weight:bold;transform:scaleX(1.1124) rotate(0.03deg);transform-origin:50% 0;">29.3</span>
<span class="t" style="left:366.29px;top:453.00px;font-size:7.4px;color:#333;transform:scaleX(0.9460) rotate(0.03deg);transform-origin:100% 0;-webkit-text-stroke:0.15px #333;">Índice de envejecimiento:</span>
<span class="t" style="left:351.39px;top:460.00px;font-size:7.4px;color:#333;transform:scaleX(0.9601) rotate(0.03deg);transform-origin:100% 0;-webkit-text-stroke:0.15px #333;">mayores de 65 años por cada</span>
<span class="t" style="left:367.43px;top:468.00px;font-size:7.4px;color:#333;transform:scaleX(0.9344) rotate(0.03deg);transform-origin:100% 0;-webkit-text-stroke:0.15px #333;">100 menores de 15 años</span>
<svg style="left:0;top:0;width:612px;height:792px" viewBox="0 0 612 792"><rect x="490.00" y="434.00" width="101.90" height="44.80" rx="6" fill="#fff" stroke="#4a2c18" stroke-width="1.6"/></svg>
<svg style="left:0;top:0;width:612px;height:792px" viewBox="0 0 612 792"><circle cx="489.90" cy="444.60" r="21.65" fill="#fff" stroke="#4a2c18" stroke-width="1.5"/></svg>
<span class="t" style="left:538.68px;top:438.00px;font-size:10.3px;color:#484848;font-weight:bold;transform:scaleX(1.0974) rotate(0.03deg);transform-origin:50% 0;">33.7</span>
<span class="t" style="left:511.39px;top:453.00px;font-size:7.4px;color:#333;transform:scaleX(0.9633) rotate(0.03deg);transform-origin:100% 0;-webkit-text-stroke:0.15px #333;">Menores de cinco años</span>
<span class="t" style="left:506.04px;top:461.00px;font-size:7.4px;color:#333;transform:scaleX(0.9577) rotate(0.03deg);transform-origin:100% 0;-webkit-text-stroke:0.15px #333;">por cada 100 mujeres en</span>
<span class="t" style="left:555.40px;top:468.00px;font-size:7.4px;color:#333;transform:scaleX(0.9662) rotate(0.03deg);transform-origin:100% 0;-webkit-text-stroke:0.15px #333;">edad fértil</span>
<svg style="left:0;top:0;width:612px;height:792px" viewBox="0 0 612 792"><rect x="416.60" y="505.90" width="100.60" height="40.90" rx="6" fill="#fff" stroke="#14601c" stroke-width="1.4"/></svg>
<svg style="left:0;top:0;width:612px;height:792px" viewBox="0 0 612 792"><circle cx="420.50" cy="517.70" r="21.80" fill="#fff" stroke="#14601c" stroke-width="1.6"/></svg>
<span class="t" style="left:463.11px;top:511.00px;font-size:10.3px;color:#484848;font-weight:bold;transform:scaleX(1.0669) rotate(0.03deg);transform-origin:50% 0;">2,082</span>
<span class="t" style="left:447.50px;top:526.00px;font-size:7.4px;color:#333;transform:scaleX(0.9446) rotate(0.03deg);transform-origin:100% 0;-webkit-text-stroke:0.15px #333;">Población residente</span>
<span class="t" style="left:437.63px;top:534.00px;font-size:7.4px;color:#333;transform:scaleX(0.9363) rotate(0.03deg);transform-origin:100% 0;-webkit-text-stroke:0.15px #333;">nacida en el extranjero</span>
<svg style="left:0;top:0;width:612px;height:792px" viewBox="0 0 612 792"><rect x="347.80" y="569.60" width="101.40" height="39.70" rx="6" fill="#fff" stroke="#ea640e" stroke-width="1.4"/></svg>
<svg style="left:0;top:0;width:612px;height:792px" viewBox="0 0 612 792"><circle cx="350.65" cy="578.50" r="21.90" fill="#fff" stroke="#ea640e" stroke-width="1.4"/></svg>
<span class="t" style="left:393.11px;top:576.00px;font-size:10.3px;color:#484848;font-weight:bold;transform:scaleX(1.0941) rotate(0.03deg);transform-origin:50% 0;">6,997</span>
<span class="t" style="left:380.00px;top:589.00px;font-size:7.4px;color:#333;transform:scaleX(0.9585) rotate(0.03deg);transform-origin:100% 0;-webkit-text-stroke:0.15px #333;">Población residente</span>
<span class="t" style="left:364.38px;top:597.00px;font-size:7.4px;color:#333;transform:scaleX(0.9612) rotate(0.03deg);transform-origin:100% 0;-webkit-text-stroke:0.15px #333;">nacida en otro municipio</span>
<svg style="left:0;top:0;width:612px;height:792px" viewBox="0 0 612 792"><rect x="491.00" y="569.20" width="104.20" height="39.20" rx="6" fill="#fff" stroke="#981040" stroke-width="1.4"/></svg>
<svg style="left:0;top:0;width:612px;height:792px" viewBox="0 0 612 792"><circle cx="490.10" cy="580.60" r="21.55" fill="#fff" stroke="#981040" stroke-width="1.5"/></svg>
<span class="t" style="left:534.40px;top:574.00px;font-size:10.3px;color:#484848;font-weight:bold;transform:scaleX(1.1043) rotate(0.03deg);transform-origin:0 0;">-0.2</span>
<span class="t" style="left:556.14px;top:574.00px;font-size:10.3px;color:#555;transform:scaleX(0.9172) rotate(0.03deg);transform-origin:100% 0;">%</span>
<span class="t" style="left:513.08px;top:590.00px;font-size:7.4px;color:#333;transform:scaleX(0.9739) rotate(0.03deg);transform-origin:100% 0;-webkit-text-stroke:0.15px #333;">Crecimiento intercensal</span>
<span class="t" style="left:555.01px;top:598.00px;font-size:7.4px;color:#333;transform:scaleX(0.9608) rotate(0.03deg);transform-origin:100% 0;-webkit-text-stroke:0.15px #333;">2002-2010</span>
<span class="t" style="left:317.80px;top:629.00px;font-size:5.8px;color:#111;transform:scaleX(1.0507) rotate(0.03deg);transform-origin:0 0;-webkit-text-stroke:0.12px #111;">Fuente: IX Censo Nacional de Población y Vivienda 2010, ONE.</span>
<span class="t" style="left:318.50px;top:656.00px;font-size:13.6px;color:#ef6c12;font-weight:bold;transform:scaleX(0.9871) rotate(0.03deg);transform-origin:0 0;">Género</span>
<svg style="left:0;top:0;width:612px;height:792px" viewBox="0 0 612 792"><rect x="353.20" y="677.90" width="97.80" height="38.40" rx="7" fill="#fff" stroke="#d81870" stroke-width="1.7"/></svg>
<svg style="left:0;top:0;width:612px;height:792px" viewBox="0 0 612 792"><circle cx="349.60" cy="707.00" r="16.80" fill="#fff" stroke="#d81870" stroke-width="1.4"/></svg>
<span class="t" style="left:358.50px;top:681.00px;font-size:10.9px;color:#2c2010;transform:scaleX(0.9518) rotate(0.03deg);transform-origin:0 0;-webkit-text-stroke:0.3px #2c2010;">10.8 %</span>
<span class="t" style="left:383.84px;top:684.00px;font-size:8.2px;color:#3a2814;transform:scaleX(0.8565) rotate(0.03deg);transform-origin:100% 0;-webkit-text-stroke:0.15px #3a2814;">Jóvenes que han</span>
<span class="t" style="left:355.59px;top:693.00px;font-size:8.2px;color:#3a2814;transform:scaleX(0.8621) rotate(0.03deg);transform-origin:100% 0;-webkit-text-stroke:0.15px #3a2814;">estado embarazadas (12</span>
<span class="t" style="left:384.75px;top:701.00px;font-size:8.2px;color:#3a2814;transform:scaleX(0.8416) rotate(0.03deg);transform-origin:100% 0;-webkit-text-stroke:0.15px #3a2814;">a 19 años), 2018</span>
<svg style="left:0;top:0;width:612px;height:792px" viewBox="0 0 612 792"><rect x="495.60" y="680.50" width="86.10" height="35.80" rx="7" fill="#fff" stroke="#ec860e" stroke-width="1.8"/></svg>
<svg style="left:0;top:0;width:612px;height:792px" viewBox="0 0 612 792"><circle cx="492.30" cy="705.10" r="16.90" fill="#fff" stroke="#ec860e" stroke-width="1.6"/></svg>
<span class="t" style="left:510.20px;top:682.00px;font-size:10.9px;color:#2c2010;transform:scaleX(0.7918) rotate(0.03deg);transform-origin:0 0;-webkit-text-stroke:0.3px #2c2010;">0</span>
<span class="t" style="left:509.97px;top:685.00px;font-size:8.2px;color:#3a2814;transform:scaleX(0.8655) rotate(0.03deg);transform-origin:100% 0;-webkit-text-stroke:0.15px #3a2814;">Mujeres fallecidas</span>
<span class="t" style="left:509.50px;top:693.00px;font-size:8.2px;color:#3a2814;transform:scaleX(0.8532) rotate(0.03deg);transform-origin:100% 0;-webkit-text-stroke:0.15px #3a2814;">en condiciones de</span>
<span class="t" style="left:520.89px;top:701.00px;font-size:8.2px;color:#3a2814;transform:scaleX(0.8518) rotate(0.03deg);transform-origin:100% 0;-webkit-text-stroke:0.15px #3a2814;">violencia, 2020</span>
<span class="t" style="left:318.00px;top:735.00px;font-size:5.0px;color:#111;transform:scaleX(1.0365) rotate(0.03deg);transform-origin:0 0;-webkit-text-stroke:0.12px #111;">Notas: Los datos contemplan a los hogares empadronados en el Tercer Estudio Socioeconómico de Hogares 2018</span>
<span class="t" style="left:318.00px;top:742.00px;font-size:5.0px;color:#111;transform:scaleX(1.0365) rotate(0.03deg);transform-origin:0 0;-webkit-text-stroke:0.12px #111;">(3-ESH 2018) del SIUBEN.</span>
<span class="t" style="left:318.00px;top:749.00px;font-size:5.0px;color:#111;transform:scaleX(1.0365) rotate(0.03deg);transform-origin:0 0;-webkit-text-stroke:0.12px #111;">La base de datos del SIUBEN cubre las áreas en prioridad I y II del Mapa de Pobreza del MEPyD</span>
<span class="t" style="left:318.00px;top:756.00px;font-size:5.0px;color:#111;transform:scaleX(1.0365) rotate(0.03deg);transform-origin:0 0;-webkit-text-stroke:0.12px #111;">y los residentes en bolsones de pobreza del país, la cual actualmente abarca el 60.5% de la población nacional.</span>
<span class="t" style="left:318.00px;top:764.00px;font-size:5.0px;color:#111;transform:scaleX(1.0365) rotate(0.03deg);transform-origin:0 0;-webkit-text-stroke:0.12px #111;">Fuente: Base de datos 3ESH-2018 SIUBEN, certificada a septiembre 2021.</span>
<span class="t" style="left:318.00px;top:771.00px;font-size:5.0px;color:#111;transform:scaleX(1.0365) rotate(0.03deg);transform-origin:0 0;-webkit-text-stroke:0.12px #111;">Registros administrativos de la Oficina de Estadísticas y Cartografía de la Policía Nacional.</span>
<svg style="left:0;top:0;width:612px;height:792px" viewBox="0 0 612 792"><path d="M-2.1 -5.2 h4.2 l1.1 3.4 l-0.9 0.3 l1.9 5.1 h-2.1 v4.1 h-1.3 v-4.1 h-0.6 v4.1 h-1.3 v-4.1 h-2.1 l1.9 -5.1 l-0.9 -0.3 Z" fill="#d83c3c" transform="translate(339.7 442.6) scale(1.720 1.720)"/><circle cx="339.7" cy="430.99" r="2.24" fill="#d83c3c"/><path d="M-2.9 -5.4 h5.8 v6.2 h-0.9 v-4.6 h-0.5 v11.4 h-1.3 v-6.6 h-0.4 v6.6 h-1.3 v-11.4 h-0.5 v4.6 h-0.9 Z" fill="#d83c3c" transform="translate(351.6 441.8) scale(1.994 1.780)"/><circle cx="351.6" cy="429.43" r="2.31" fill="#d83c3c"/><path d="M333.5 444.5 V455.6 M355.9 444.5 V455.6" stroke="#d83c3c" stroke-width="1.0" fill="none"/><path d="M335.2 434.5 L331.6 443.8 M356.5 434.5 L358.6 444.2" stroke="#d83c3c" stroke-width="1.5" fill="none" stroke-linecap="round"/></svg>
<svg style="left:0;top:0;width:612px;height:792px" viewBox="0 0 612 792"><g transform="translate(465 418) scale(0.08170)"><g fill="none" stroke="#4a2c18" stroke-width="15" stroke-linejoin="round" stroke-linecap="round">
<path d="M128 436 Q300 492 488 424 Q500 432 490 446 Q300 520 126 458 Q118 446 128 436 Z"/>
<path d="M345 205 Q368 172 398 165 L418 186 L490 240 L470 268 L436 272 Q418 320 422 350 L452 432"/>
<path d="M345 205 Q332 250 322 290 L262 300 Q240 285 215 270"/>
<path d="M215 270 Q190 252 165 268 Q140 300 134 372 Q160 352 168 330 Q180 300 205 296"/>
<path d="M205 296 Q222 330 215 372 Q200 410 190 440"/>
<path d="M232 445 L262 388 Q300 372 345 388 L385 440"/>
<path d="M250 312 Q252 340 285 342 Q322 340 326 308"/>
<path d="M278 344 Q286 362 270 384 M312 342 Q306 362 322 384"/>
<path d="M372 196 Q350 240 338 285"/>
<path d="M405 432 L392 405 Q410 380 422 350"/>
</g><circle cx="428" cy="222" r="7" fill="#4a2c18"/></g></svg>
<svg style="left:0;top:0;width:612px;height:792px" viewBox="0 0 612 792"><path d="M-2.1 -5.2 h4.2 l1.1 3.4 l-0.9 0.3 l1.9 5.1 h-2.1 v4.1 h-1.3 v-4.1 h-0.6 v4.1 h-1.3 v-4.1 h-2.1 l1.9 -5.1 l-0.9 -0.3 Z" fill="#14601c" transform="translate(414.6 524.3) scale(1.590 1.420)"/><circle cx="414.6" cy="514.71" r="1.85" fill="#14601c"/><path d="M-2.9 -5.4 h5.8 v6.2 h-0.9 v-4.6 h-0.5 v11.4 h-1.3 v-6.6 h-0.4 v6.6 h-1.3 v-11.4 h-0.5 v4.6 h-0.9 Z" fill="#14601c" transform="translate(425.2 524.3) scale(1.562 1.420)"/><circle cx="425.2" cy="514.43" r="1.85" fill="#14601c"/><circle cx="419.1" cy="505.2" r="6.6" fill="#cfeaf4" stroke="#1c2c34" stroke-width="0.9"/><path d="M414.2 501.2 q1.6 -2 3.4 -1.2 l0.6 2.6 l-1.8 2.4 l-2.2 -0.8 Z M420.4 500.4 q3 -1.2 4.2 1.6 l-2.2 2 l-2.6 -1 Z M419.6 506.4 q3 -1.6 5 1.4 q-0.8 2.6 -3.4 3 l-2 -2.2 Z M414 506.6 l2.2 0.6 l1 3.2 q-2.4 -0.8 -3.2 -3.8 Z" fill="#bfe6b4" stroke="#1c2c34" stroke-width="0.7"/><path d="M416.6 499.2 Q421.5 505 420.6 511.6 M413 503.6 Q419 506.6 425.4 503.2" stroke="#1c2c34" stroke-width="0.9" fill="none"/></svg>
<svg style="left:0;top:0;width:612px;height:792px" viewBox="0 0 612 792"><path d="M-2.1 -5.2 h4.2 l1.1 3.4 l-0.9 0.3 l1.9 5.1 h-2.1 v4.1 h-1.3 v-4.1 h-0.6 v4.1 h-1.3 v-4.1 h-2.1 l1.9 -5.1 l-0.9 -0.3 Z" fill="#ea640e" transform="translate(346.7 585.6) scale(1.541 1.340)"/><circle cx="346.7" cy="576.56" r="1.74" fill="#ea640e"/><path d="M-2.9 -5.4 h5.8 v6.2 h-0.9 v-4.6 h-0.5 v11.4 h-1.3 v-6.6 h-0.4 v6.6 h-1.3 v-11.4 h-0.5 v4.6 h-0.9 Z" fill="#ea640e" transform="translate(356.6 585.6) scale(1.474 1.340)"/><circle cx="356.6" cy="576.29" r="1.74" fill="#ea640e"/><rect x="343.3" y="560.7" width="6.7" height="5.0" fill="#0c2490"/><rect x="351.9" y="560.7" width="6.7" height="5.0" fill="#c8103c"/><rect x="343.3" y="567.6" width="6.7" height="5.0" fill="#c8103c"/><rect x="351.9" y="567.6" width="6.7" height="5.0" fill="#0c2490"/></svg>
<svg style="left:0;top:0;width:612px;height:792px" viewBox="0 0 612 792"><g transform="translate(465 553) scale(0.08170)"><path d="M172 464 L330 396 L300 330 L415 283" fill="none" stroke="#981040" stroke-width="22" stroke-linecap="round" stroke-linejoin="miter"/>
<path d="M486 250 L340 208 L398 284 L410 386 Z" fill="#981040"/></g></svg>
<svg style="left:0;top:0;width:612px;height:792px" viewBox="0 0 612 792"><g transform="translate(328 683) scale(0.08170)"><g fill="none" stroke="#d81870" stroke-width="14" stroke-linecap="round" stroke-linejoin="round">
<path d="M155 155 L160 265 Q170 290 192 298 Q172 340 166 392 L184 456"/>
<path d="M216 165 L222 236 L332 226"/>
<path d="M240 130 L318 200 Q336 222 332 244"/>
<path d="M192 298 Q280 262 352 252"/>
<path d="M352 252 Q392 300 372 372 Q352 410 336 440 L330 458"/>
<circle cx="276" cy="332" r="30"/>
<path d="M262 360 Q258 392 296 398 Q340 400 360 372"/>
<path d="M300 318 Q330 300 352 330 Q356 352 336 368"/>
<path d="M298 350 Q316 338 330 352 M304 366 Q320 360 332 372"/>
</g></g></svg>
<svg style="left:0;top:0;width:612px;height:792px" viewBox="0 0 612 792"><g transform="translate(468 680) scale(0.08170)"><g fill="none" stroke="#ec860e" stroke-width="11" stroke-linecap="round" stroke-linejoin="round">
<path d="M222 242 Q222 188 270 186 Q320 188 320 242 Q318 298 270 304 Q224 298 222 242 Z"/>
<path d="M196 214 Q206 152 270 148 Q340 152 348 220 Q352 262 338 290"/>
<path d="M196 214 Q184 262 168 290 Q176 330 206 340"/>
<path d="M206 340 Q176 366 160 430"/>
<path d="M236 344 L268 398 L304 344"/>
<path d="M222 316 Q246 340 270 340 Q300 338 318 316"/>
<path d="M346 330 Q340 390 372 424 Q410 446 440 420 Q462 390 462 300"/>
<path d="M346 330 Q344 300 366 296 L366 340 M366 296 L372 262 Q386 252 392 266 L392 330 M392 266 Q404 248 416 262 L416 330 M416 270 Q430 258 440 272 L440 336 M440 296 Q454 288 462 300"/>
<path d="M374 372 Q392 378 402 398"/>
</g>
<circle cx="252" cy="232" r="5" fill="#ec860e"/><circle cx="292" cy="232" r="5" fill="#ec860e"/><path d="M262 264 h18" stroke="#ec860e" stroke-width="8"/></g></svg>
</body></html>
